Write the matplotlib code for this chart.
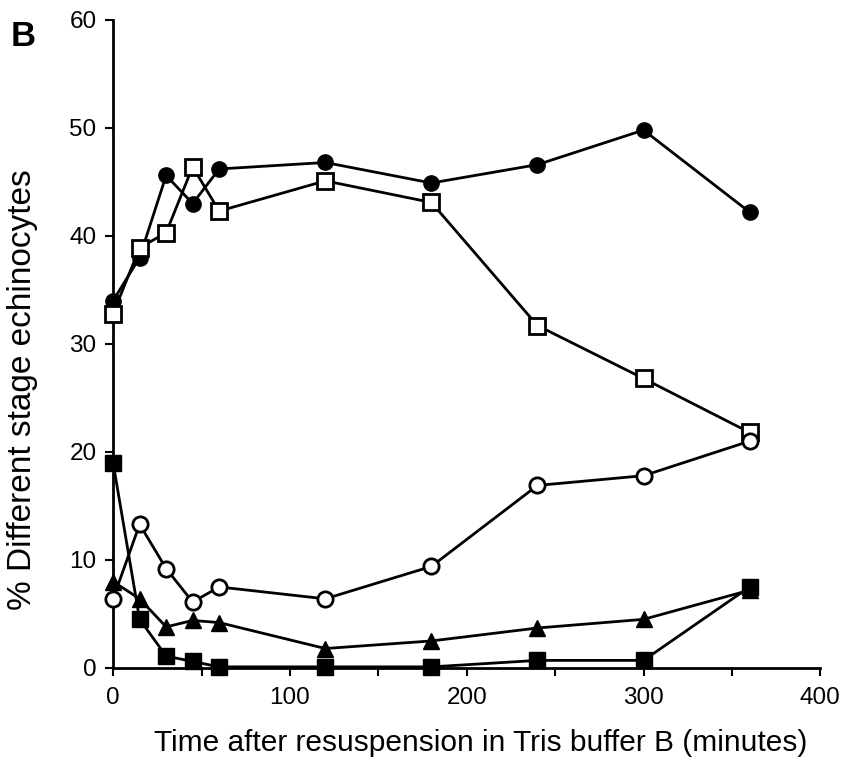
import matplotlib.pyplot as plt
from matplotlib.ticker import MultipleLocator

plt.rcParams['font.family'] = ['Liberation Sans', 'DejaVu Sans']

time = [0, 15, 30, 45, 60, 120, 180, 240, 300, 360]

filled_circle = [34.0, 38.0, 45.6, 43.0, 46.2, 46.8, 44.9, 46.6, 49.8, 42.2]
open_square = [32.8, 38.9, 40.3, 46.4, 42.3, 45.1, 43.1, 31.7, 26.8, 21.8]
open_circle = [6.4, 13.3, 9.2, 6.1, 7.5, 6.4, 9.4, 16.9, 17.8, 21.0]
filled_triangle = [8.0, 6.4, 3.8, 4.4, 4.2, 1.8, 2.5, 3.7, 4.5, 7.2]
filled_square = [19.0, 4.5, 1.1, 0.6, 0.1, 0.1, 0.1, 0.7, 0.7, 7.5]

fig = plt.figure(figsize=(8.44, 7.66), dpi=100)
ax = fig.add_axes([0.134, 0.128, 0.838, 0.846])

lw = 2.0
ms = 11
common = dict(color='black', lw=lw, ms=ms, clip_on=False, zorder=3)
ax.plot(time, filled_circle, '-o', mfc='black', mec='black', **common)
ax.plot(time, open_square, '-s', mfc='white', mec='black', mew=2, **common)
ax.plot(time, open_circle, '-o', mfc='white', mec='black', mew=2, **common)
ax.plot(time, filled_triangle, '-^', mfc='black', mec='black', **common)
ax.plot(time, filled_square, '-s', mfc='black', mec='black', **common)

ax.set_xlim(0, 400)
ax.set_ylim(0, 60)
ax.xaxis.set_major_locator(MultipleLocator(100))
ax.xaxis.set_minor_locator(MultipleLocator(50))
ax.yaxis.set_major_locator(MultipleLocator(10))

for side in ['top', 'right']:
    ax.spines[side].set_visible(False)
for side in ['left', 'bottom']:
    ax.spines[side].set_linewidth(2)

ax.tick_params(axis='x', which='both', direction='out', width=1.5, length=6, labelsize=17.5, pad=8)
ax.tick_params(axis='y', which='both', direction='out', width=1.5, length=6, labelsize=17.5, pad=6)

ax.set_xlabel('Time after resuspension in Tris buffer B (minutes)', fontsize=21.5)
ax.set_ylabel('% Different stage echinocytes', fontsize=24)
ax.xaxis.set_label_coords(0.52, -0.094)
ax.yaxis.set_label_coords(-0.106, 0.43)

fig.text(0.012, 0.94, 'B', fontsize=25, fontweight='bold')

fig.savefig('out.png', dpi=100)
